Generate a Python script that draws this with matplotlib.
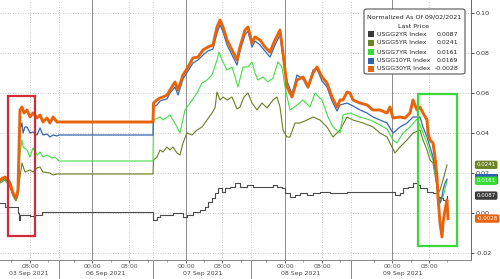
import matplotlib
matplotlib.use('Agg')
import matplotlib.pyplot as plt
from matplotlib.patches import Rectangle, FancyBboxPatch
from matplotlib.transforms import blended_transform_factory

plt.rcParams['font.family'] = ['DejaVu Sans']

W, H = 500, 279

# position along the compressed intraday time axis (trading sessions only)
x2 = [0, 5, 18, 19, 20, 25, 30, 35, 42, 59, 153, 157, 160, 173, 183, 187, 193, 200, 205, 208,
      212, 215, 218, 222, 225, 230, 235, 240, 247, 253, 273, 277, 282, 285, 290, 295, 300, 307, 313, 320,
      330, 347, 363, 380, 395, 400, 403, 408, 413, 418, 420, 427, 433, 437, 440, 443, 447]
y2 = [0.005, 0.003, 0.0, -0.0035, -0.001, -0.001, -0.0015, -0.001, 0.0005, 0.0005,
      -0.0035, -0.002, -0.001, 0.0, -0.002, -0.001, 0.0005, 0.0015, 0.003, 0.0055,
      0.0075, 0.010, 0.0125, 0.0105, 0.0125, 0.013, 0.015, 0.013, 0.014, 0.013,
      0.014, 0.013, 0.0125, 0.010, 0.008, 0.009, 0.010, 0.009, 0.010, 0.0105,
      0.010, 0.0105, 0.0105, 0.0105, 0.009, 0.010, 0.0125, 0.013, 0.015, 0.014,
      0.0125, 0.0105, 0.010, 0.008, 0.0075, 0.0065, 0.0087]

x5 = [0, 5, 10, 13, 16, 18, 19, 20, 22, 25, 30, 33, 37, 40, 43, 50, 53, 57, 59, 153,
      153.5, 157, 160, 163, 167, 170, 173, 177, 180, 183, 187, 192, 197, 202, 207, 212, 215, 217, 220, 223,
      227, 232, 237, 240, 244, 248, 252, 257, 262, 267, 273, 277, 280, 283, 287, 290, 295, 300, 307, 313,
      320, 327, 333, 340, 347, 353, 363, 373, 380, 387, 392, 395, 400, 407, 413, 420, 423, 427, 430, 433,
      437, 438, 440, 443, 447]
y5 = [0.015, 0.0165, 0.013, 0.0085, 0.006, 0.009, 0.014, 0.018, 0.025, 0.0205,
      0.0215, 0.0205, 0.0225, 0.023, 0.0205, 0.020, 0.019, 0.0195, 0.0195, 0.0195,
      0.0265, 0.028, 0.0315, 0.0305, 0.033, 0.0315, 0.033, 0.030, 0.029, 0.035,
      0.040, 0.039, 0.0415, 0.043, 0.0465, 0.050, 0.0525, 0.0605, 0.0565, 0.058,
      0.0565, 0.058, 0.052, 0.053, 0.058, 0.060, 0.055, 0.0515, 0.055, 0.0525,
      0.0565, 0.058, 0.053, 0.0415, 0.038, 0.038, 0.045, 0.045, 0.0465, 0.048,
      0.0465, 0.043, 0.038, 0.0415, 0.048, 0.0465, 0.045, 0.043, 0.040, 0.038,
      0.033, 0.030, 0.033, 0.0365, 0.040, 0.0415, 0.0365, 0.0315, 0.0265, 0.025,
      0.013, 0.010, 0.0115, 0.0165, 0.0241]

x7 = [0, 5, 10, 13, 16, 18, 19, 20, 22, 23, 27, 30, 33, 37, 40, 43, 47, 52, 55, 59,
      153, 153.5, 160, 163, 170, 177, 180, 185, 190, 197, 202, 207, 212, 217, 219, 222, 227, 232, 238, 243,
      248, 252, 255, 258, 263, 268, 273, 278, 282, 285, 290, 297, 303, 310, 315, 322, 328, 333, 340, 343,
      350, 360, 370, 380, 387, 393, 397, 403, 410, 417, 420, 423, 427, 430, 433, 437, 438, 440, 443, 447]
y7 = [0.0155, 0.017, 0.014, 0.009, 0.0065, 0.010, 0.022, 0.030, 0.0365, 0.033,
      0.0315, 0.028, 0.0325, 0.029, 0.0305, 0.028, 0.029, 0.0275, 0.028, 0.026,
      0.026, 0.0465, 0.048, 0.0465, 0.049, 0.043, 0.040, 0.0515, 0.055, 0.060,
      0.065, 0.0665, 0.069, 0.0765, 0.0805, 0.0765, 0.0715, 0.073, 0.063, 0.073,
      0.073, 0.0755, 0.070, 0.0665, 0.068, 0.0655, 0.0675, 0.0755, 0.073, 0.063,
      0.0515, 0.054, 0.0565, 0.053, 0.060, 0.0565, 0.048, 0.043, 0.040, 0.049,
      0.050, 0.048, 0.0465, 0.044, 0.042, 0.0365, 0.035, 0.040, 0.043, 0.047,
      0.044, 0.040, 0.035, 0.030, 0.0265, 0.015, 0.008, 0.005, 0.008, 0.0161]

x10 = [0, 5, 10, 13, 16, 18, 19, 20, 22, 23, 25, 27, 30, 33, 37, 40, 43, 47, 50, 53,
       57, 59, 153, 153.5, 157, 160, 163, 167, 170, 175, 178, 183, 188, 193, 198, 203, 208, 213, 217, 220,
       223, 227, 232, 237, 240, 245, 248, 252, 255, 260, 265, 270, 275, 280, 283, 287, 292, 297, 303, 308,
       313, 317, 322, 327, 332, 337, 340, 347, 353, 360, 367, 373, 380, 387, 393, 400, 407, 413, 420, 423,
       427, 430, 433, 437, 438, 440, 442, 443, 445, 447]
y10 = [0.016, 0.0175, 0.0145, 0.0095, 0.007, 0.011, 0.028, 0.0415, 0.045, 0.040,
       0.043, 0.043, 0.040, 0.0405, 0.039, 0.0425, 0.039, 0.0395, 0.038, 0.039,
       0.0385, 0.039, 0.039, 0.053, 0.054, 0.056, 0.0565, 0.057, 0.060, 0.063,
       0.059, 0.067, 0.071, 0.075, 0.0765, 0.079, 0.081, 0.082, 0.090, 0.094,
       0.0905, 0.084, 0.079, 0.074, 0.081, 0.089, 0.091, 0.083, 0.086, 0.084,
       0.081, 0.078, 0.084, 0.089, 0.078, 0.066, 0.0595, 0.069, 0.067, 0.0625,
       0.0715, 0.072, 0.066, 0.063, 0.056, 0.051, 0.054, 0.055, 0.0535, 0.0515,
       0.050, 0.048, 0.0465, 0.045, 0.040, 0.043, 0.045, 0.048, 0.048, 0.043,
       0.038, 0.033, 0.028, 0.0165, 0.010, 0.005, 0.008, 0.0115, 0.015, 0.0169]

x30 = [0, 3, 5, 8, 10, 13, 16, 18, 19, 20, 22, 24, 27, 30, 33, 37, 40, 43, 47, 50,
       53, 57, 59, 153, 153.5, 157, 160, 163, 167, 170, 175, 178, 183, 188, 193, 198, 203, 208, 213, 217,
       220, 223, 227, 232, 237, 240, 245, 248, 252, 255, 260, 265, 270, 275, 280, 283, 287, 292, 297, 303,
       308, 313, 317, 322, 327, 332, 337, 340, 343, 347, 350, 353, 360, 367, 373, 380, 387, 390, 393, 400,
       405, 410, 413, 417, 420, 423, 427, 428, 430, 433, 435, 437, 438, 440, 442, 443, 445, 447, 448]
y30 = [0.0165, 0.0175, 0.018, 0.0165, 0.015, 0.010, 0.0075, 0.0115, 0.0315, 0.0515,
       0.053, 0.050, 0.0515, 0.048, 0.050, 0.0475, 0.049, 0.0455, 0.0475, 0.045,
       0.048, 0.0455, 0.0455, 0.0455, 0.055, 0.0565, 0.0575, 0.058, 0.059, 0.0615,
       0.0655, 0.0615, 0.069, 0.073, 0.0775, 0.078, 0.0815, 0.083, 0.084, 0.093,
       0.0965, 0.093, 0.0865, 0.0815, 0.0765, 0.083, 0.0915, 0.093, 0.085, 0.088,
       0.0865, 0.083, 0.0805, 0.0865, 0.0915, 0.080, 0.063, 0.058, 0.0665, 0.068,
       0.063, 0.070, 0.073, 0.068, 0.065, 0.058, 0.053, 0.0565, 0.0565, 0.0605,
       0.060, 0.0565, 0.055, 0.054, 0.0515, 0.0515, 0.050, 0.053, 0.0475, 0.048,
       0.0475, 0.050, 0.0565, 0.0515, 0.053, 0.050, 0.0465, 0.040, 0.0365, 0.035,
       0.028, 0.018, 0.008, -0.005, -0.012, -0.005, 0.0015, 0.0065, -0.0028]

names = ['USGG2YR Index', 'USGG5YR Index', 'USGG7YR Index', 'USGG10YR Index', 'USGG30YR Index']
last_price = [0.0087, 0.0241, 0.0161, 0.0169, -0.0028]
line_colors = ['#4a4a4a', '#6b7d24', '#44dd44', '#3567b0', '#e8640c']
box_colors = ['#3a3a3a', '#6b8424', '#33dd33', '#2f63b0', '#e8640c']

time_ticks = [30, 92, 129, 186, 222, 285, 322, 392, 429]
time_labels = ['08:00', '00:00', '08:00', '00:00', '08:00', '00:00', '08:00', '00:00', '08:00']
day_pos = [29, 106, 203, 301, 403]
day_labels = ['03 Sep 2021', '06 Sep 2021', '07 Sep 2021', '08 Sep 2021', '09 Sep 2021']
midnight_lines = [92, 186, 285, 392]
dotted_lines = [30, 59, 129, 153, 222, 251, 322, 351, 429]
session_breaks = [59, 153, 251, 351]
minor_ticks = [11, 48, 74, 111, 148, 167, 204, 241, 266, 303, 340, 374, 411, 447]
yticks = [-0.02, 0.0, 0.02, 0.04, 0.06, 0.08, 0.10]

# highlight boxes (x range, y range)
red_box = (8, 35, -0.0115, 0.0585)
green_box = (418, 457, -0.0165, 0.0595)

fig = plt.figure(figsize=(W / 100, H / 100), dpi=100)
fig.patch.set_facecolor('white')
ax = fig.add_axes([0, 19 / H, 471 / W, 260 / H])
ax.set_xlim(0, 471)
ax.set_ylim(-0.0235, 0.1065)

for y in yticks:
    ax.axhline(y, color='#b5b5b5', lw=0.6, ls=(0, (1, 2)), zorder=0)
for x in dotted_lines:
    ax.axvline(x, color='#b5b5b5', lw=0.6, ls=(0, (1, 2)), zorder=0)
for x in midnight_lines:
    ax.axvline(x, color='#8a8a8a', lw=0.7, zorder=0)

ax.plot(x2, y2, color=line_colors[0], lw=0.8, drawstyle='steps-post', zorder=2)
ax.plot(x5, y5, color=line_colors[1], lw=0.8, zorder=2)
ax.plot(x7, y7, color=line_colors[2], lw=0.8, zorder=2)
ax.plot(x10, y10, color=line_colors[3], lw=0.9, zorder=3)
ax.plot(x30, y30, color=line_colors[4], lw=2.1, zorder=4)

for (x0, x1, b, t), c in [(red_box, '#d42a3a'), (green_box, '#3bd83b')]:
    ax.add_patch(Rectangle((x0, b), x1 - x0, t - b, fill=False, ec=c, lw=1.6, zorder=5))

# axes styling
for s in ['top', 'left']:
    ax.spines[s].set_visible(False)
ax.spines['right'].set_color('#666666')
ax.spines['bottom'].set_color('#888888')
ax.spines['right'].set_linewidth(0.7)
ax.spines['bottom'].set_linewidth(0.7)

ax.yaxis.tick_right()
ax.set_yticks(yticks)
ax.set_yticklabels([f'{v:.2f}' for v in yticks])
ax.tick_params(axis='y', length=2, width=0.6, pad=1.5, labelsize=4.6, colors='#333333')

ax.set_xticks(time_ticks)
ax.set_xticklabels(time_labels)
ax.set_xticks(minor_ticks, minor=True)
ax.tick_params(axis='x', which='major', length=2, width=0.6, pad=1.2, labelsize=4.5, colors='#555555')
ax.tick_params(axis='x', which='minor', length=1.5, width=0.5, colors='#777777')

trans = blended_transform_factory(ax.transData, ax.transAxes)
for p, lab in zip(day_pos, day_labels):
    ax.text(p, -0.053, lab, transform=trans, ha='center', va='center', fontsize=4.5, color='#444444')
for x in session_breaks:
    ax.plot([x, x], [0, -0.08], transform=trans, color='#8a8a8a', lw=0.7, clip_on=False)

# last price tags on the right axis; the 10YR tag sits under the 7YR one
ytrans = blended_transform_factory(ax.transAxes, ax.transData)
ax.add_patch(Rectangle((1.009, last_price[3] - 0.0024), 0.048, 0.0048, transform=ytrans,
                       fc=box_colors[3], ec='none', clip_on=False, zorder=6))
for i in [0, 1, 2, 4]:
    v = last_price[i]
    ax.annotate(f'{v:.4f}', xy=(1.0, v), xycoords=ytrans, xytext=(4, 0), textcoords='offset points',
                ha='left', va='center', fontsize=4.0, color='white', annotation_clip=False,
                bbox=dict(boxstyle='round,pad=0.3,rounding_size=0.3', fc=box_colors[i], ec='none'),
                zorder=7)

# legend box
def fx(px):
    return px / W

def fy(py):
    return 1 - py / H

fig.add_artist(FancyBboxPatch((fx(364), fy(74)), fx(101), 65 / H,
                              boxstyle='round,pad=0,rounding_size=0.006',
                              transform=fig.transFigure, fc='white', ec='#555555', lw=0.8, zorder=10))
fig.text(fx(414), fy(17), 'Normalized As Of 09/02/2021', ha='center', va='center',
         fontsize=4.6, color='#222222', zorder=11)
fig.text(fx(414), fy(26), 'Last Price', ha='center', va='center', fontsize=4.6, color='#222222', zorder=11)
row_y = [34, 43, 52, 61, 69]
for ry, name, v, c in zip(row_y, names, last_price, box_colors):
    fig.add_artist(Rectangle((fx(368), fy(ry + 3)), fx(6), 6 / H, transform=fig.transFigure,
                             fc=c, ec='none', zorder=11))
    fig.text(fx(377), fy(ry), name, ha='left', va='center', fontsize=4.5, color='#222222', zorder=11)
    fig.text(fx(458), fy(ry), f'{v:.4f}', ha='right', va='center', fontsize=4.5, color='#222222', zorder=11)

fig.savefig('out.png', dpi=100, facecolor='white')
